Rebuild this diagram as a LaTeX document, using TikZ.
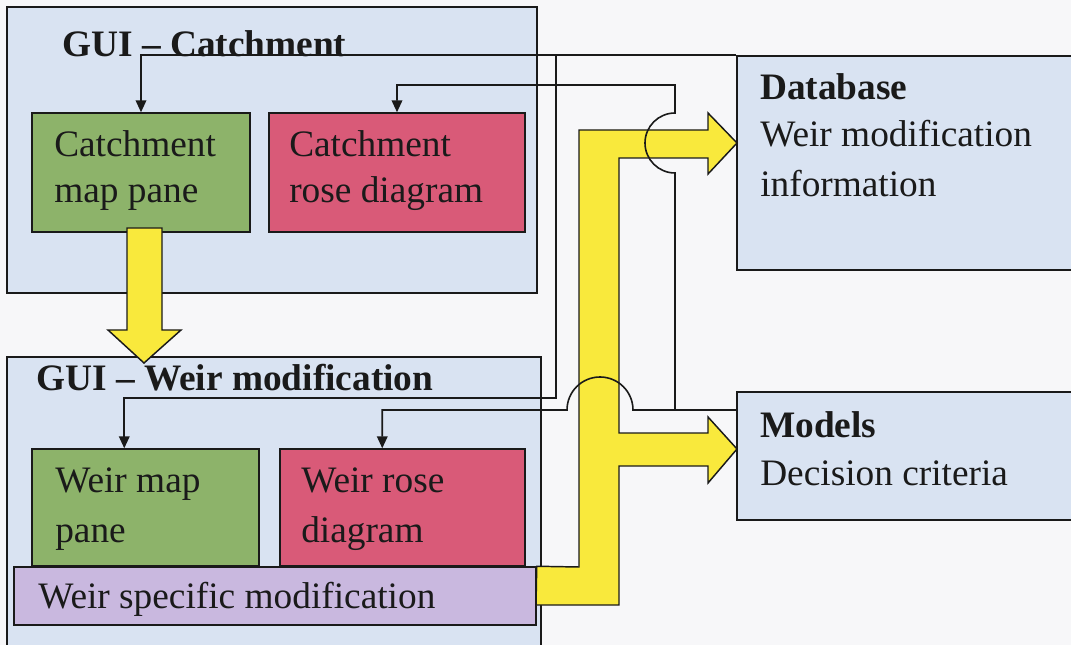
\documentclass[tikz,border=0pt]{standalone}
\usepackage{fontspec}
\setmainfont{Liberation Serif}
\usetikzlibrary{arrows.meta,fit,calc}

\definecolor{paper}{HTML}{F7F7F9}
\definecolor{guiblue}{HTML}{D9E3F2}
\definecolor{mapgreen}{HTML}{8DB36A}
\definecolor{rosered}{HTML}{D95A78}
\definecolor{modpurple}{HTML}{C9B8DF}
\definecolor{flowyellow}{HTML}{F9E93C}
\definecolor{ink}{HTML}{1A1A1A}

\tikzset{
  panel/.style={draw=ink, line width=1.1pt, inner sep=0pt},
  guibox/.style={panel, fill=guiblue},
  mapbox/.style={panel, fill=mapgreen},
  rosebox/.style={panel, fill=rosered},
  modbox/.style={panel, fill=modpurple},
  txt/.style={anchor=base west, inner sep=0pt, text=ink, font=\fontsize{28}{34}\selectfont},
  headtxt/.style={txt, font=\fontsize{28}{34}\selectfont\bfseries},
  wire/.style={draw=ink, line width=1.2pt},
  link/.style={wire, -{Triangle[length=9pt,width=8pt]}},
  flow/.style={draw=ink, line width=1.1pt, fill=flowyellow, line join=miter},
}

\begin{document}
\begin{tikzpicture}[x=0.75pt,y=-0.75pt]
    \useasboundingbox (0,0) rectangle (1071,645);
    \clip (0,0) rectangle (1071,645);
    \fill[paper] (0,0) rectangle (1071,645);

    % GUI catchment
    \node[guibox, fit={(7,7) (537,293)}] (catchgui) {};
    \node[mapbox, fit={(32,113) (250,232)}] (catchmap) {};
    \node[rosebox, fit={(269,113) (525,232)}] (catchrose) {};
    \node[headtxt] (catchtitle) at (62,57) {GUI -- Catchment};
    \node[txt] (cm1) at (54,157) {Catchment};
    \node[txt] (cm2) at (54,203) {map pane};
    \node[txt] (cr1) at (289,157) {Catchment};
    \node[txt] (cr2) at (289,203) {rose diagram};

    % GUI weir modification
    \node[guibox, fit={(7,357) (541,660)}] (weirgui) {};
    \node[mapbox, fit={(32,449) (259,566)}] (weirmap) {};
    \node[rosebox, fit={(280,449) (525,566)}] (weirrose) {};
    \node[modbox, fit={(14,567) (536,625)}] (specmod) {};
    \node[headtxt] (weirtitle) at (36,390) {GUI -- Weir modification};
    \node[txt] (wm1) at (55,492) {Weir map};
    \node[txt] (wm2) at (55,542) {pane};
    \node[txt] (wr1) at (301,492) {Weir rose};
    \node[txt] (wr2) at (301,542) {diagram};
    \node[txt] (sm1) at (38,608) {Weir specific modification};

    % database and models
    \node[guibox, fit={(737,56) (1080,270)}] (db) {};
    \node[guibox, fit={(737,392) (1080,520)}] (models) {};
    \node[headtxt] (db1) at (760,100) {Database};
    \node[txt] (db2) at (760,147) {Weir modification};
    \node[txt] (db3) at (760,197) {information};
    \node[headtxt] (mo1) at (760,437) {Models};
    \node[txt] (mo2) at (760,485) {Decision criteria};

    % yellow flows
    \draw[flow] (127,228) -- (127,330) -- (108,330) -- (144,363) -- (181,330) -- (162,330) -- (162,228) -- cycle;
    \draw[flow] (specmod.north east) -- (579,567) -- (579,130) -- (708,130) -- (708,113) -- (737,143)
        -- (708,174) -- (708,158) -- (619,158) -- (619,433) -- (708,433) -- (708,417) -- (737,449)
        -- (708,483) -- (708,466) -- (619,466) -- (619,605) -- (536,605) -- cycle;

    % connectors
    \coordinate (split) at (556,56);
    \coordinate (bend1) at (556,398);
    \coordinate (wmtop) at ($(weirmap.north west)+(93,0)$);
    \coordinate (wrtop) at ($(weirrose.north west)+(103,0)$);
    \coordinate (tee) at (675,410);
    \draw[link] (db.north west) -| (catchmap.north);
    \draw[link] (split) -- (bend1) -| (wmtop);
    \draw[link] (models.west |- tee) -- (tee) -- (675,173) arc[start angle=90,end angle=270,radius=30]
        -- (675,85) -| (catchrose.north);
    \draw[link] (tee) -- (633,410) arc[start angle=0,end angle=-180,radius=33] -| (wrtop);

\end{tikzpicture}
\end{document}
